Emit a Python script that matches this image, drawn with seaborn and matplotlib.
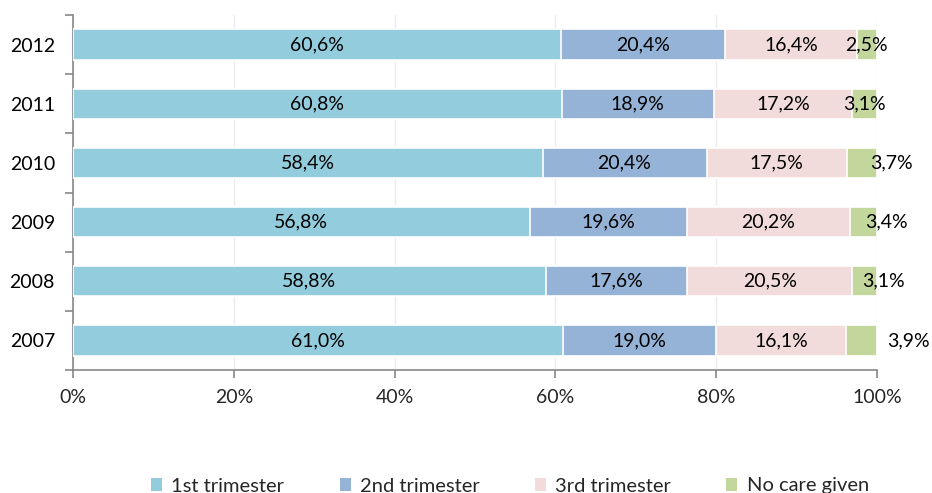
import matplotlib
matplotlib.use("Agg")
import matplotlib.pyplot as plt
import seaborn as sns
import pandas as pd
import numpy as np
from matplotlib.patches import Patch
from matplotlib.ticker import FixedLocator

years = ["2012", "2011", "2010", "2009", "2008", "2007"]
first = [60.6, 60.8, 58.4, 56.8, 58.8, 61.0]
second = [20.4, 18.9, 20.4, 19.6, 17.6, 19.0]
third = [16.4, 17.2, 17.5, 20.2, 20.5, 16.1]
nocare = [2.5, 3.1, 3.7, 3.4, 3.1, 3.9]
series_names = ["1st trimester", "2nd trimester", "3rd trimester", "No care given"]
x_ticks = [0, 20, 40, 60, 80, 100]

colors = ["#93CDDD", "#95B3D7", "#F2DCDB", "#C3D69B"]
last_label_offsets_px = [0, 0, 29, 23, 19, 47]

sns.set_style("white")
plt.rcParams["font.family"] = ["Lato", "DejaVu Sans"]

df = pd.DataFrame({"year": years, "s1": first, "s2": second, "s3": third, "s4": nocare})
vals = df[["s1", "s2", "s3", "s4"]].to_numpy()
totals = vals.sum(axis=1, keepdims=True)
pct = vals / totals * 100
cum = np.cumsum(pct, axis=1)
for i in range(4):
    df[f"c{i}"] = cum[:, i]

fig = plt.figure(figsize=(9.32, 4.93), dpi=100)
ax = fig.add_axes([73/932, 1-370/493, (877-73)/932, (370-15)/493])

for i in range(3, -1, -1):
    sns.barplot(data=df, x=f"c{i}", y="year", order=years, orient="h",
                color=colors[i], saturation=1, width=0.51,
                edgecolor="white", linewidth=1.2, ax=ax, zorder=3)

ax.set_xlim(0, 100)
ax.set_ylim(len(years) - 0.5, -0.5)
ax.set_xticks(x_ticks)
ax.set_xticklabels([f"{t}%" for t in x_ticks])
ax.set_xlabel("")
ax.set_ylabel("")
ax.xaxis.grid(True, color="#ececec", linewidth=1, zorder=0)
ax.set_axisbelow(True)

ax.yaxis.set_minor_locator(FixedLocator(np.arange(-0.5, len(years), 1.0)))
ax.tick_params(axis="y", which="major", length=0, pad=13, labelsize=14, colors="black")
ax.tick_params(axis="y", which="minor", length=6, width=1.2, color="#888888", left=True)
ax.tick_params(axis="x", which="major", length=6, width=1.2, color="#888888", bottom=True,
               pad=8, labelsize=14)

for s in ["top", "right"]:
    ax.spines[s].set_visible(False)
for s in ["left", "bottom"]:
    ax.spines[s].set_color("#888888")
    ax.spines[s].set_linewidth(1.2)

def fmt(v):
    return f"{v:.1f}%".replace(".", ",")

for r, y in enumerate(years):
    for i in range(4):
        left = cum[r, i] - pct[r, i]
        xc = left + pct[r, i] / 2
        off = last_label_offsets_px[r] if i == 3 else 0
        ax.annotate(fmt(vals[r, i]), xy=(xc, r), xytext=(off, 0),
                    textcoords="offset pixels", ha="center", va="center",
                    fontsize=14, color="black", zorder=5)

handles = [Patch(facecolor=c, edgecolor="none") for c in colors]
fig.legend(handles, series_names, loc="center", bbox_to_anchor=(510/932, 1-486/493),
           ncol=4, frameon=False, fontsize=14.5, handlelength=0.55, handleheight=0.65,
           handletextpad=0.45, columnspacing=2.75, borderpad=0)

fig.savefig("out.png", dpi=100)
